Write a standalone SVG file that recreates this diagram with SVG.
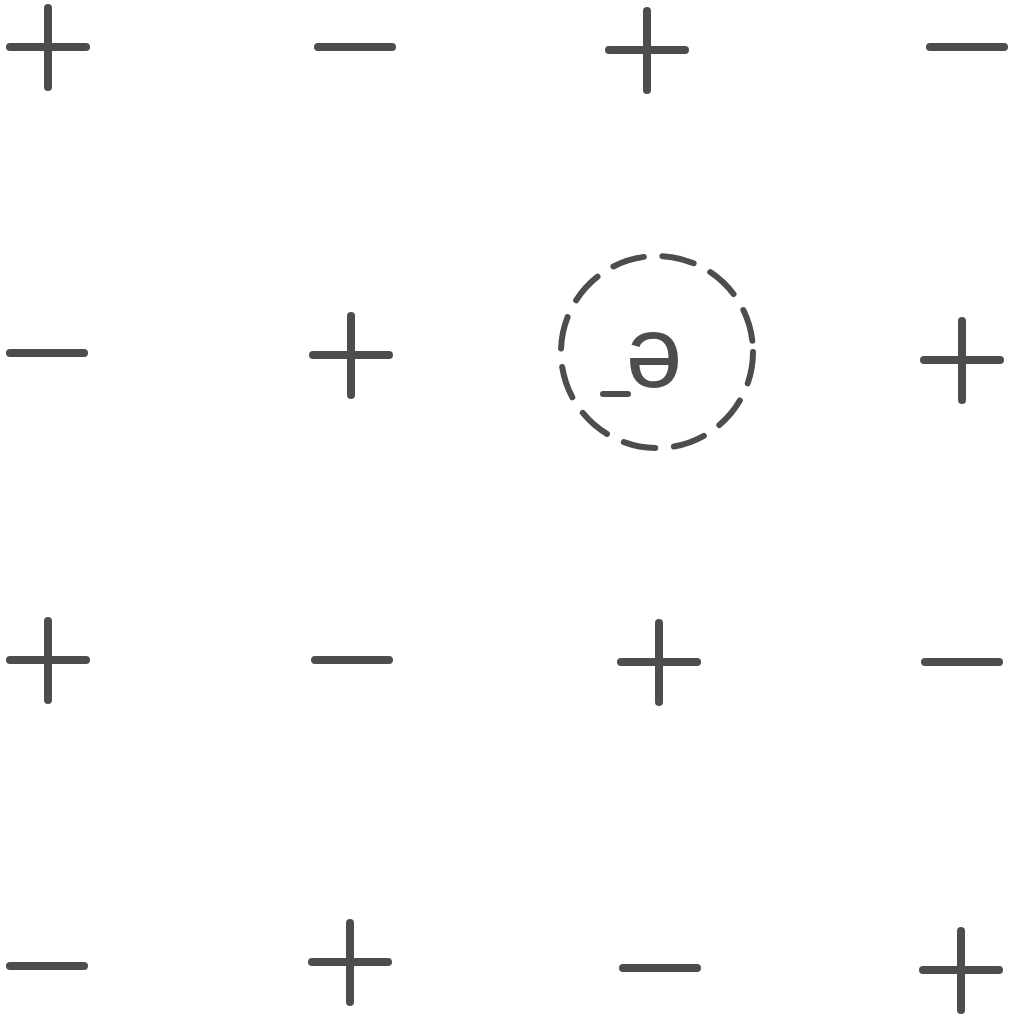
<svg xmlns="http://www.w3.org/2000/svg" xmlns:xlink="http://www.w3.org/1999/xlink" width="1019" height="1015" viewBox="0 0 1019 1015">
<style>
.s{stroke:#4d4d4d;stroke-width:8;stroke-linecap:round;fill:none}
.c{stroke:#4d4d4d;stroke-width:6;stroke-linecap:round;fill:none;stroke-dasharray:32 18.8}
.t{font-family:"Liberation Sans",Arial,sans-serif;font-size:102px;fill:#4d4d4d}
</style>
<defs>
<g id="plus"><line class="s" x1="-38" y1="0" x2="38" y2="0"/><line class="s" x1="0" y1="-39" x2="0" y2="40"/></g>
<g id="minus"><line class="s" x1="-37" y1="0" x2="37" y2="0"/></g>
</defs>
<rect width="1019" height="1015" fill="#fff"/>
<g id="r1c1"><use xlink:href="#plus" x="48" y="47"/></g>
<g id="r1c2"><use xlink:href="#minus" x="355" y="47"/></g>
<g id="r1c3"><use xlink:href="#plus" x="647" y="50"/></g>
<g id="r1c4"><use xlink:href="#minus" x="967" y="47"/></g>
<g id="r2c1"><use xlink:href="#minus" x="47" y="353"/></g>
<g id="r2c2"><use xlink:href="#plus" x="351" y="355"/></g>
<g id="electron">
<circle class="c" cx="657" cy="352" r="96"/>
<line class="s" x1="603" y1="394" x2="628" y2="394" style="stroke-width:6"/>
<text class="t" x="654" y="387" text-anchor="middle">ə</text>
</g>
<g id="r2c4"><use xlink:href="#plus" x="962" y="360"/></g>
<g id="r3c1"><use xlink:href="#plus" x="48" y="660"/></g>
<g id="r3c2"><use xlink:href="#minus" x="352" y="660"/></g>
<g id="r3c3"><use xlink:href="#plus" x="659" y="662"/></g>
<g id="r3c4"><use xlink:href="#minus" x="962" y="662"/></g>
<g id="r4c1"><use xlink:href="#minus" x="47" y="966"/></g>
<g id="r4c2"><use xlink:href="#plus" x="350" y="962"/></g>
<g id="r4c3"><use xlink:href="#minus" x="660" y="968"/></g>
<g id="r4c4"><use xlink:href="#plus" x="961" y="970"/></g>
<g id="connectors"/>
</svg>
